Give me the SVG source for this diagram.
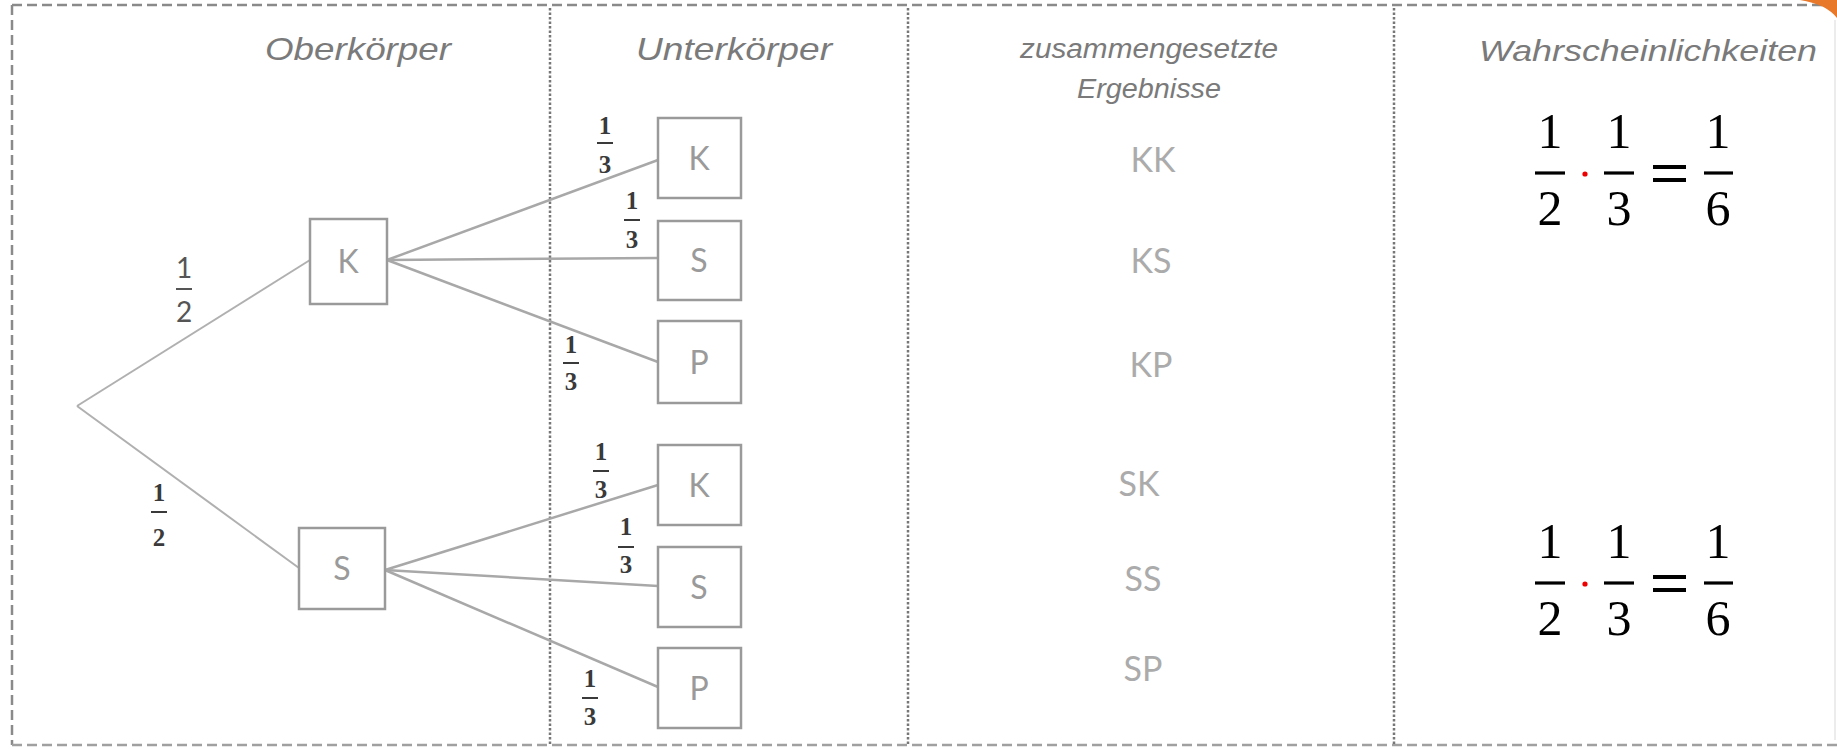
<svg xmlns="http://www.w3.org/2000/svg" width="1837" height="749" viewBox="0 0 1837 749">
<style>
.border{stroke:#8a8a8a;stroke-width:2.5;stroke-dasharray:10 5;fill:none}
.div{stroke:#777;stroke-width:2.5;stroke-dasharray:2.5 2;fill:none}
.hdr{font-family:"Liberation Sans",Arial,sans-serif;font-style:italic;fill:#7a7a7a;text-anchor:middle}
.box{fill:#fff;stroke:#9a9a9a;stroke-width:2.5}
.lbl{font-family:Lato,"Open Sans",sans-serif;font-size:32px;fill:#9a9a9a;text-anchor:middle}
.res{font-family:Lato,"Open Sans",sans-serif;font-size:34px;fill:#ababab;text-anchor:middle}
.e1{stroke:#b0b0b0;stroke-width:2;fill:none}
.e2{stroke:#a8a8a8;stroke-width:2.5;fill:none}
.fr{font-family:"Liberation Serif","Times New Roman",serif;font-weight:bold;font-size:25px;fill:#3a3a3a;text-anchor:middle}
.frh{font-family:Lato,"Liberation Sans",sans-serif;font-size:28px;fill:#555;text-anchor:middle}
.frb{stroke:#3a3a3a;stroke-width:2}
.eq{font-family:"Liberation Serif","Times New Roman",serif;font-size:50px;fill:#000;text-anchor:middle}
.eqb{stroke:#000;stroke-width:3.2}
</style>

<g id="frame">
  <line class="border" x1="12" y1="5" x2="1837" y2="5"/>
  <line class="border" x1="12" y1="5" x2="12" y2="745"/>
  <line class="border" x1="12" y1="745" x2="1837" y2="745" style="stroke:#a0a0a0"/>
  <line x1="1835" y1="20" x2="1835" y2="740" stroke="#e6e6e6" stroke-width="1.5"/>
  <line class="div" x1="550" y1="8" x2="550" y2="745"/>
  <line class="div" x1="908" y1="8" x2="908" y2="745"/>
  <line class="div" x1="1394" y1="8" x2="1394" y2="745"/>
  <path d="M1800,0 Q1826,4 1837,18 L1837,0 Z" fill="#e8782a"/>
</g>

<g id="headers">
  <text class="hdr" x="358" y="60" font-size="32" textLength="186" lengthAdjust="spacingAndGlyphs">Oberkörper</text>
  <text class="hdr" x="734" y="60" font-size="32" textLength="196" lengthAdjust="spacingAndGlyphs">Unterkörper</text>
  <text class="hdr" x="1149" y="58" font-size="27" textLength="258" lengthAdjust="spacingAndGlyphs">zusammengesetzte</text>
  <text class="hdr" x="1149" y="98" font-size="28" textLength="144" lengthAdjust="spacingAndGlyphs">Ergebnisse</text>
  <text class="hdr" x="1648" y="61" font-size="30" textLength="338" lengthAdjust="spacingAndGlyphs">Wahrscheinlichkeiten</text>
</g>

<g id="connectors">
  <line class="e1" x1="77" y1="406" x2="310" y2="260"/>
  <line class="e1" x1="77" y1="406" x2="299" y2="568"/>
  <line class="e2" x1="387" y1="260" x2="658" y2="160"/>
  <line class="e2" x1="387" y1="260" x2="658" y2="258"/>
  <line class="e2" x1="387" y1="260" x2="658" y2="362"/>
  <line class="e2" x1="385" y1="570" x2="658" y2="485"/>
  <line class="e2" x1="385" y1="570" x2="658" y2="586"/>
  <line class="e2" x1="385" y1="570" x2="658" y2="687"/>
</g>

<g id="edge-labels">
  <g id="p-root-K">
    <text class="frh" x="184" y="278">1</text>
    <line class="frb" x1="176" y1="289" x2="192" y2="289" style="stroke:#555"/>
    <text class="frh" x="184" y="322">2</text>
  </g>
  <g id="p-root-S">
    <text class="fr" x="159" y="501" font-size="30">1</text>
    <line class="frb" x1="151" y1="512" x2="167" y2="512"/>
    <text class="fr" x="159" y="546" font-size="30">2</text>
  </g>
  <g id="p-K-K">
    <text class="fr" x="605" y="134">1</text>
    <line class="frb" x1="597" y1="143" x2="613" y2="143"/>
    <text class="fr" x="605" y="173">3</text>
  </g>
  <g id="p-K-S">
    <text class="fr" x="632" y="209">1</text>
    <line class="frb" x1="624" y1="220" x2="640" y2="220"/>
    <text class="fr" x="632" y="248">3</text>
  </g>
  <g id="p-K-P">
    <text class="fr" x="571" y="353">1</text>
    <line class="frb" x1="563" y1="363" x2="579" y2="363"/>
    <text class="fr" x="571" y="390">3</text>
  </g>
  <g id="p-S-K">
    <text class="fr" x="601" y="460">1</text>
    <line class="frb" x1="593" y1="471" x2="609" y2="471"/>
    <text class="fr" x="601" y="498">3</text>
  </g>
  <g id="p-S-S">
    <text class="fr" x="626" y="535">1</text>
    <line class="frb" x1="618" y1="547" x2="634" y2="547"/>
    <text class="fr" x="626" y="573">3</text>
  </g>
  <g id="p-S-P">
    <text class="fr" x="590" y="687">1</text>
    <line class="frb" x1="582" y1="698" x2="598" y2="698"/>
    <text class="fr" x="590" y="725">3</text>
  </g>
</g>

<g id="node-K1"><rect class="box" x="310" y="219" width="77" height="85"/><text class="lbl" x="348" y="273">K</text></g>
<g id="node-S1"><rect class="box" x="299" y="528" width="86" height="81"/><text class="lbl" x="342" y="580">S</text></g>

<g id="node-KK"><rect class="box" x="658" y="118" width="83" height="80"/><text class="lbl" x="699" y="170">K</text></g>
<g id="node-KS"><rect class="box" x="658" y="221" width="83" height="79"/><text class="lbl" x="699" y="272">S</text></g>
<g id="node-KP"><rect class="box" x="658" y="321" width="83" height="82"/><text class="lbl" x="699" y="374">P</text></g>
<g id="node-SK"><rect class="box" x="658" y="445" width="83" height="80"/><text class="lbl" x="699" y="497">K</text></g>
<g id="node-SS"><rect class="box" x="658" y="547" width="83" height="80"/><text class="lbl" x="699" y="599">S</text></g>
<g id="node-SP"><rect class="box" x="658" y="648" width="83" height="80"/><text class="lbl" x="699" y="700">P</text></g>

<g id="results">
  <text class="res" x="1153" y="172">KK</text>
  <text class="res" x="1151" y="273">KS</text>
  <text class="res" x="1151" y="377">KP</text>
  <text class="res" x="1139" y="496">SK</text>
  <text class="res" x="1143" y="591">SS</text>
  <text class="res" x="1143" y="681">SP</text>
</g>

<g id="prob-K">
  <text class="eq" x="1550" y="148">1</text>
  <line class="eqb" x1="1535" y1="173" x2="1565" y2="173"/>
  <text class="eq" x="1550" y="225">2</text>
  <circle cx="1585" cy="174" r="2.6" fill="#e00"/>
  <text class="eq" x="1619" y="148">1</text>
  <line class="eqb" x1="1604" y1="173" x2="1634" y2="173"/>
  <text class="eq" x="1619" y="225">3</text>
  <line class="eqb" x1="1653" y1="167" x2="1686" y2="167" style="stroke-width:4"/>
  <line class="eqb" x1="1653" y1="180" x2="1686" y2="180" style="stroke-width:4"/>
  <text class="eq" x="1718" y="148">1</text>
  <line class="eqb" x1="1704" y1="173" x2="1733" y2="173"/>
  <text class="eq" x="1718" y="225">6</text>
</g>

<g id="prob-S">
  <text class="eq" x="1550" y="558">1</text>
  <line class="eqb" x1="1535" y1="583" x2="1565" y2="583"/>
  <text class="eq" x="1550" y="635">2</text>
  <circle cx="1585" cy="584" r="2.6" fill="#e00"/>
  <text class="eq" x="1619" y="558">1</text>
  <line class="eqb" x1="1604" y1="583" x2="1634" y2="583"/>
  <text class="eq" x="1619" y="635">3</text>
  <line class="eqb" x1="1653" y1="577" x2="1686" y2="577" style="stroke-width:4"/>
  <line class="eqb" x1="1653" y1="590" x2="1686" y2="590" style="stroke-width:4"/>
  <text class="eq" x="1718" y="558">1</text>
  <line class="eqb" x1="1704" y1="583" x2="1733" y2="583"/>
  <text class="eq" x="1718" y="635">6</text>
</g>
</svg>
